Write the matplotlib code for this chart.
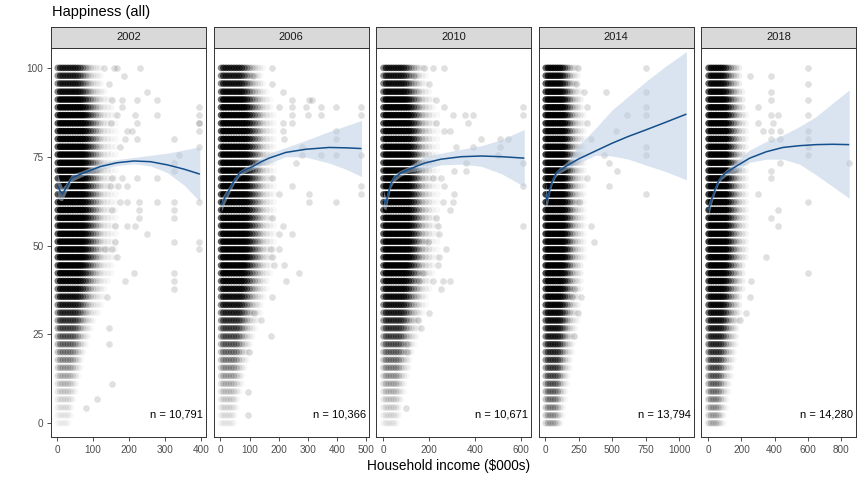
import numpy as np
import matplotlib
matplotlib.use("Agg")
import matplotlib.pyplot as plt

plt.rcParams['font.family'] = ['Liberation Sans', 'DejaVu Sans']

# ---------------- data ----------------
years = ["2002", "2006", "2010", "2014", "2018"]
n_labels = ["n = 10,791", "n = 10,366", "n = 10,671", "n = 13,794", "n = 14,280"]

# discrete happiness scores (0-100)
happiness_levels = [0.0, 2.2, 4.4, 6.7, 8.9, 11.1, 13.3, 15.6, 17.8, 20.0, 22.2, 24.4,
                    26.7, 28.9, 31.1, 33.3, 35.6, 37.8, 40.0, 42.2, 44.4, 46.7, 48.9,
                    51.1, 53.3, 55.6, 57.8, 60.0, 62.2, 64.4, 66.7, 68.9, 71.1, 73.3,
                    75.6, 77.8, 80.0, 82.2, 84.4, 86.7, 88.9, 91.1, 93.3, 95.6, 97.8, 100.0]
# relative number of respondents at each happiness score
level_density = [0.06, 0.08, 0.1, 0.12, 0.15, 0.18, 0.22, 0.26, 0.3, 0.35, 0.4, 0.45,
                 0.5, 0.56, 0.62, 0.68, 0.74, 0.8, 0.85, 0.9, 0.94, 1.0, 1.0,
                 1.0, 1.0, 1.0, 1.0, 1.0, 1.0, 1.0, 1.0, 1.0, 1.0, 1.0,
                 1.0, 1.0, 1.0, 1.0, 1.0, 1.0, 0.95, 0.9, 0.8, 0.72, 0.68, 0.7]
# larger samples fill the sparse rows more (exponent < 1 = fuller rows)
level_gamma = {"2002": 1.0, "2006": 0.9, "2010": 0.85, "2014": 0.5, "2018": 0.55}

# income values of the dense cloud ($000s) and their relative density
cloud_income_2002 = [2, 9, 16, 23, 30, 37, 44, 51, 58, 65, 72, 79, 86, 93, 100, 107, 114, 121, 130, 140, 150, 162]
cloud_weight_2002 = [0.7, 1, 1, 1, 1, 1, 1, 1, 1, 1, 0.9, 0.8, 0.65, 0.5, 0.4, 0.3, 0.22, 0.16, 0.12, 0.09, 0.07, 0.05]
cloud_income_2006 = [2, 10, 19, 28, 37, 46, 55, 64, 73, 82, 91, 100, 109, 118, 127, 136, 146, 158, 170, 182]
cloud_weight_2006 = [0.7, 1, 1, 1, 1, 1, 1, 1, 1, 1, 0.85, 0.7, 0.55, 0.42, 0.32, 0.24, 0.17, 0.12, 0.08, 0.05]
cloud_income_2010 = [2, 13, 24, 35, 46, 57, 68, 79, 90, 101, 112, 123, 134, 145, 156, 170, 185, 200, 215, 235]
cloud_weight_2010 = [0.7, 1, 1, 1, 1, 1, 1, 1, 1, 1, 0.9, 0.75, 0.6, 0.45, 0.35, 0.26, 0.18, 0.12, 0.08, 0.05]
cloud_income_2014 = [2, 20, 38, 56, 74, 92, 110, 128, 146, 164, 182, 200, 220, 240, 262, 285]
cloud_weight_2014 = [0.8, 1, 1, 1, 1, 1, 1, 0.95, 0.8, 0.6, 0.42, 0.3, 0.2, 0.14, 0.1, 0.06]
cloud_income_2018 = [2, 17, 32, 47, 62, 77, 92, 107, 122, 137, 152, 167, 185, 205, 225]
cloud_weight_2018 = [0.8, 1, 1, 1, 1, 1, 1, 0.9, 0.72, 0.52, 0.38, 0.28, 0.2, 0.13, 0.08]

# sparse high-income respondents (income $000s, happiness)
out_x_2002 = [129, 157, 166, 231, 186, 143, 250, 152, 180, 222, 278, 180, 394, 166, 217, 278, 394,
              150, 222, 394, 394, 194, 208, 394, 189, 222, 325, 175, 394, 339, 325, 325,
              152, 180, 222, 278, 147, 170, 194, 175, 194, 226, 278, 325, 394, 152, 226, 325,
              226, 325, 161, 194, 217, 250, 161, 325, 394, 132, 152, 394, 166, 213, 325,
              189, 325, 325, 138, 143, 143, 152, 110, 80]
out_y_2002 = [100, 100, 100, 100, 97.8, 95.6, 93.3, 91.1, 91.1, 91.1, 91.1, 88.9, 88.9, 86.7, 86.7, 86.7, 86.7,
              84.4, 84.4, 84.4, 84.4, 82.2, 82.2, 82.2, 80.0, 80.0, 80.0, 77.8, 77.8, 75.6, 73.3, 71.1,
              68.9, 68.9, 68.9, 68.9, 66.7, 66.7, 66.7, 62.2, 62.2, 62.2, 62.2, 62.2, 62.2, 60.0, 60.0, 60.0,
              57.8, 57.8, 55.6, 55.6, 55.6, 53.3, 51.1, 51.1, 51.1, 48.9, 48.9, 48.9, 46.7, 42.2, 42.2,
              40.0, 40.0, 37.8, 35.6, 26.7, 22.2, 11.1, 6.7, 4.4]
out_x_2006 = [178, 110, 178, 213, 247, 304, 315, 201, 247, 293, 344, 396, 482, 247, 299, 344, 482,
              213, 247, 396, 213, 219, 396, 281, 281, 344, 396, 482, 258, 178, 247, 482, 201, 304, 482,
              304, 396, 178, 213, 201, 247, 172, 201, 178, 184, 219, 270, 224, 178, 116, 138, 172, 98, 93, 93]
out_y_2006 = [100, 97.8, 95.6, 93.3, 91.1, 91.1, 91.1, 88.9, 88.9, 88.9, 88.9, 88.9, 88.9, 86.7, 86.7, 86.7, 86.7,
              84.4, 84.4, 82.2, 82.2, 80.0, 80.0, 77.8, 75.6, 75.6, 75.6, 75.6, 73.3, 68.9, 66.7, 66.7, 64.4, 64.4, 64.4,
              62.2, 62.2, 57.8, 55.6, 53.3, 53.3, 48.9, 48.9, 46.7, 44.4, 44.4, 42.2, 40.0, 35.6, 31.1, 28.9, 24.4, 20.0, 8.9, 2.2]
out_x_2010 = [180, 216, 267, 136, 201, 230, 267, 610, 303, 355, 391, 610, 230, 369, 267, 289,
              427, 508, 544, 318, 391, 508, 501, 362, 610, 310, 362, 216, 252, 267, 610, 310,
              260, 303, 289, 230, 238, 610, 245, 194, 274, 245, 238, 172, 158, 216, 260, 289,
              252, 201, 150, 165, 106, 106, 99]
out_y_2010 = [100, 100, 100, 97.8, 95.6, 91.1, 88.9, 88.9, 86.7, 86.7, 86.7, 86.7, 84.4, 84.4, 82.2, 82.2,
              80.0, 80.0, 80.0, 77.8, 77.8, 77.8, 75.6, 73.3, 73.3, 71.1, 71.1, 68.9, 68.9, 66.7, 66.7, 64.4,
              62.2, 62.2, 60.0, 57.8, 55.6, 55.6, 53.3, 51.1, 48.9, 46.7, 44.4, 42.2, 40.0, 40.0, 40.0, 40.0,
              37.8, 31.1, 28.9, 26.7, 22.2, 20.0, 4.4]
out_x_2014 = [240, 751, 227, 289, 451, 751, 314, 751, 614, 751, 314, 527, 339, 751, 439, 751,
              477, 539, 314, 477, 751, 252, 339, 364, 214, 264, 202, 240, 214]
out_y_2014 = [100, 100, 95.6, 93.3, 93.3, 93.3, 88.9, 88.9, 86.7, 86.7, 84.4, 82.2, 80.0, 77.8, 75.6, 75.6,
              73.3, 71.1, 68.9, 66.7, 64.4, 62.2, 55.6, 51.1, 37.8, 35.6, 35.6, 31.1, 24.4]
out_x_2018 = [600, 250, 380, 600, 380, 380, 600, 300, 380, 420, 600, 300, 390, 330, 380, 430, 600,
              380, 430, 600, 600, 600, 430, 850, 380, 380, 300, 600, 420, 380, 420, 350, 600, 260, 250, 230, 190]
out_y_2018 = [100, 97.8, 97.8, 95.6, 93.3, 91.1, 91.1, 88.9, 86.7, 86.7, 86.7, 84.4, 84.4, 82.2, 82.2, 82.2, 82.2,
              80.0, 80.0, 80.0, 77.8, 75.6, 73.3, 73.3, 71.1, 68.9, 64.4, 62.2, 60.0, 57.8, 55.6, 46.7, 42.2, 40.0,
              35.6, 31.1, 28.9]

# smoothed fit with confidence band
smooth_x_2002 = [0, 8, 15, 25, 40, 73, 119, 166, 213, 259, 306, 352, 396]
smooth_y_2002 = [67.1, 65.4, 64.5, 66.2, 69.0, 70.4, 72.2, 73.3, 73.8, 73.6, 72.7, 71.5, 70.1]
smooth_lo_2002 = [63.5, 62.7, 62.7, 64.9, 68.0, 69.6, 71.3, 72.5, 73.0, 72.4, 70.5, 67.0, 62.4]
smooth_hi_2002 = [70.7, 68.1, 66.3, 67.5, 70.0, 71.2, 73.1, 74.2, 74.8, 75.4, 76.0, 76.9, 77.8]
smooth_x_2006 = [3, 15, 30, 45, 64, 85, 110, 140, 167, 224, 293, 373, 430, 484]
smooth_y_2006 = [61.4, 63.5, 65.7, 68.0, 70.2, 71.3, 72.2, 73.6, 74.6, 76.2, 77.1, 77.6, 77.5, 77.3]
smooth_lo_2006 = [59.5, 62.0, 64.6, 67.1, 69.4, 70.5, 71.4, 72.5, 73.2, 75.0, 74.9, 73.2, 71.5, 69.4]
smooth_hi_2006 = [63.3, 65.0, 66.8, 68.9, 71.0, 72.1, 73.0, 74.7, 76.0, 77.6, 79.6, 82.1, 83.7, 85.2]
smooth_x_2010 = [2, 12, 22, 33, 48, 75, 107, 180, 252, 340, 427, 515, 614]
smooth_y_2010 = [63.0, 61.7, 64.5, 67.3, 69.0, 70.3, 71.3, 73.2, 74.3, 75.0, 75.2, 75.0, 74.6]
smooth_lo_2010 = [60.5, 60.0, 63.0, 66.2, 68.0, 69.4, 70.5, 71.5, 72.7, 72.9, 72.3, 70.2, 66.6]
smooth_hi_2010 = [65.5, 63.4, 66.0, 68.4, 70.0, 71.2, 72.1, 75.0, 76.0, 77.1, 78.1, 79.8, 82.7]
smooth_x_2014 = [0, 12, 30, 50, 75, 100, 175, 250, 374, 499, 620, 748, 900, 1055]
smooth_y_2014 = [64.5, 62.6, 65.5, 68.0, 70.0, 71.0, 72.8, 74.4, 76.6, 78.8, 80.7, 82.5, 84.7, 87.0]
smooth_lo_2014 = [61.0, 61.0, 64.5, 67.2, 69.2, 70.2, 71.8, 73.3, 75.4, 75.2, 74.3, 72.7, 70.8, 68.5]
smooth_hi_2014 = [68.0, 64.2, 66.5, 68.8, 70.8, 71.8, 74.0, 78.3, 83.0, 88.2, 92.0, 96.1, 100.5, 104.6]
smooth_x_2018 = [0, 20, 40, 60, 80, 110, 150, 250, 350, 450, 550, 650, 750, 850]
smooth_y_2018 = [60.0, 63.0, 65.7, 68.0, 69.4, 70.6, 71.8, 74.6, 76.4, 77.6, 78.1, 78.4, 78.5, 78.4]
smooth_lo_2018 = [58.0, 61.8, 64.8, 67.2, 68.6, 69.7, 70.7, 73.4, 74.3, 74.3, 72.9, 69.9, 66.6, 63.3]
smooth_hi_2018 = [62.0, 64.2, 66.6, 68.8, 70.2, 71.5, 72.9, 76.9, 79.3, 81.1, 83.5, 86.3, 90.1, 93.8]

x_ticks = {"2002": [0, 100, 200, 300, 400],
           "2006": [0, 100, 200, 300, 400, 500],
           "2010": [0, 200, 400, 600],
           "2014": [0, 250, 500, 750, 1000],
           "2018": [0, 200, 400, 600, 800]}
y_ticks = [0, 25, 50, 75, 100]

cloud_income = {"2002": cloud_income_2002, "2006": cloud_income_2006, "2010": cloud_income_2010,
                "2014": cloud_income_2014, "2018": cloud_income_2018}
cloud_weight = {"2002": cloud_weight_2002, "2006": cloud_weight_2006, "2010": cloud_weight_2010,
                "2014": cloud_weight_2014, "2018": cloud_weight_2018}
outliers = {"2002": (out_x_2002, out_y_2002), "2006": (out_x_2006, out_y_2006),
            "2010": (out_x_2010, out_y_2010), "2014": (out_x_2014, out_y_2014),
            "2018": (out_x_2018, out_y_2018)}
smooths = {"2002": (smooth_x_2002, smooth_y_2002, smooth_lo_2002, smooth_hi_2002),
           "2006": (smooth_x_2006, smooth_y_2006, smooth_lo_2006, smooth_hi_2006),
           "2010": (smooth_x_2010, smooth_y_2010, smooth_lo_2010, smooth_hi_2010),
           "2014": (smooth_x_2014, smooth_y_2014, smooth_lo_2014, smooth_hi_2014),
           "2018": (smooth_x_2018, smooth_y_2018, smooth_lo_2018, smooth_hi_2018)}

# ---------------- layout ----------------
W, H = 864, 480
x_limits = {"2002": (-16.8, 413), "2006": (-24, 508), "2010": (-30.6, 643),
            "2014": (-52, 1108), "2018": (-44, 891)}
y_limits = (-3.9, 105.6)
panel_left0, panel_step, panel_w = 51, 162.5, 155
panel_top, panel_bottom = 48, 437
strip_top = 27

edge = '#333333'
tick_lab = '#4d4d4d'
marker_s = 23

fig = plt.figure(figsize=(W / 100, H / 100), dpi=100)

for i, yr in enumerate(years):
    left = panel_left0 + i * panel_step
    ax = fig.add_axes([left / W, 1 - panel_bottom / H, panel_w / W, (panel_bottom - panel_top) / H])
    ax.set_xlim(*x_limits[yr])
    ax.set_ylim(*y_limits)

    # dense cloud: rows with fewer respondents are fainter and narrower
    inc = np.array(cloud_income[yr], dtype=float)
    wts = np.array(cloud_weight[yr], dtype=float)
    xs, ys, cols = [], [], []
    for k, hv in enumerate(happiness_levels):
        lw = min(1.0, level_density[k] ** level_gamma[yr])
        spread = 0.4 + 0.6 * lw
        row_w = np.interp(inc / spread, inc, wts, right=0.0)
        for xv, wv in zip(inc, row_w):
            a = (lw * wv) ** 1.2
            if a < 0.025:
                continue
            xs.append(xv)
            ys.append(hv)
            cols.append((0, 0, 0, min(a, 0.9)))
    ax.scatter(xs, ys, s=marker_s, c=cols, linewidths=0, zorder=2)

    ox, oy = outliers[yr]
    ax.scatter(ox, oy, s=marker_s, color=(0, 0, 0, 0.12), linewidths=0, zorder=2)

    sx, sy, slo, shi = smooths[yr]
    ax.fill_between(sx, slo, shi, color='#b7cbe2', alpha=0.5, linewidth=0, zorder=3)
    ax.plot(sx, sy, color='#134f8c', lw=1.1, zorder=4, solid_capstyle='butt')

    ax.text(0.982, 0.058, n_labels[i], transform=ax.transAxes, ha='right', va='center',
            fontsize=8, color='black')

    for sp in ax.spines.values():
        sp.set_color(edge)
        sp.set_linewidth(0.7)
    ax.set_xticks(x_ticks[yr])
    ax.set_xticklabels([str(t) for t in x_ticks[yr]])
    ax.tick_params(axis='x', length=3, width=0.6, color=edge, labelsize=7.2,
                   labelcolor=tick_lab, pad=2.5)
    if i == 0:
        ax.set_yticks(y_ticks)
        ax.set_yticklabels([str(t) for t in y_ticks])
        ax.tick_params(axis='y', length=3, width=0.6, color=edge, labelsize=7.2,
                       labelcolor=tick_lab, pad=2.5)
    else:
        ax.set_yticks([])
    ax.grid(False)

    sax = fig.add_axes([left / W, 1 - panel_top / H, panel_w / W, (panel_top - strip_top) / H])
    sax.set_facecolor('#d9d9d9')
    sax.set_xticks([])
    sax.set_yticks([])
    for sp in sax.spines.values():
        sp.set_color(edge)
        sp.set_linewidth(0.7)
    sax.text(0.5, 0.5, yr, transform=sax.transAxes, ha='center', va='center',
             fontsize=8, color='#1a1a1a')

fig.text(52 / W, 1 - 12 / H, "Happiness (all)", ha='left', va='center', fontsize=10.5, color='black')
fig.text(449 / W, 1 - 466 / H, "Household income ($000s)", ha='center', va='center',
         fontsize=9.8, color='black')

fig.savefig("out.png", dpi=100)
